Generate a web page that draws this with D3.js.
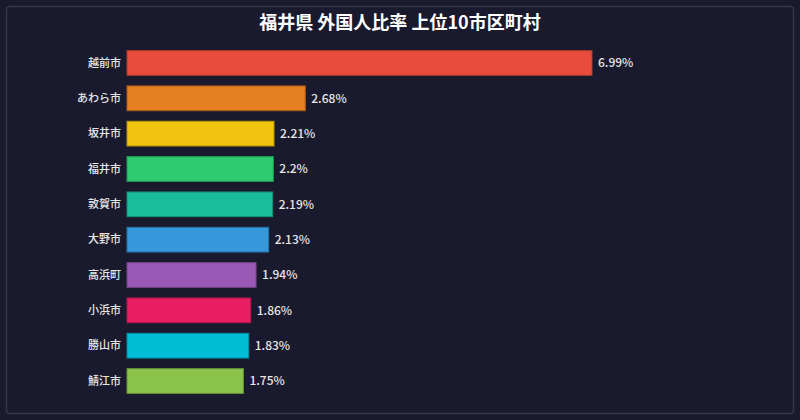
<!DOCTYPE html>
<html>
<head>
<meta charset="utf-8">
<script src="https://cdn.jsdelivr.net/npm/d3@7"></script>
<style>
  html, body { margin: 0; padding: 0; background: #1a1a2e; }
  svg { display: block; font-family: "Noto Sans CJK JP", "Noto Sans", sans-serif; }
</style>
</head>
<body>
<div id="chart"></div>
<script>
const cities = ['越前市', 'あわら市', '坂井市', '福井市', '敦賀市', '大野市', '高浜町', '小浜市', '勝山市', '鯖江市'];
const ratios = [6.99, 2.68, 2.21, 2.2, 2.19, 2.13, 1.94, 1.86, 1.83, 1.75];
const barColors = ['#e74c3c', '#e67e22', '#f1c40f', '#2ecc71', '#1abc9c', '#3498db', '#9b59b6', '#e91e63', '#00bcd4', '#8bc34a'];
const title = '福井県 外国人比率 上位10市区町村';

const W = 800, H = 420;
const margin = { top: 40, right: 208, bottom: 16, left: 127 };
const width = W - margin.left - margin.right;
const height = H - margin.top - margin.bottom;

const data = cities.map((c, i) => ({ city: c, value: ratios[i], color: barColors[i] }));

const svg = d3.select('#chart').append('svg')
    .attr('width', W)
    .attr('height', H);

svg.append('rect')
    .attr('width', W).attr('height', H)
    .attr('fill', '#1a1a2e');

// frame
svg.append('rect')
    .attr('x', 6.5).attr('y', 6.5)
    .attr('width', W - 13).attr('height', H - 13)
    .attr('rx', 3)
    .attr('fill', '#1a1a2e')
    .attr('stroke', '#34344c')
    .attr('stroke-width', 1.5);

svg.append('text')
    .attr('x', W / 2)
    .attr('y', 29)
    .attr('text-anchor', 'middle')
    .attr('fill', '#ffffff')
    .style('font-size', '18px')
    .style('font-weight', 'bold')
    .text(title);

const g = svg.append('g')
    .attr('transform', `translate(${margin.left},${margin.top})`);

const xScale = d3.scaleLinear()
    .domain([0, d3.max(ratios)])
    .range([0, width]);

const yScale = d3.scaleBand()
    .domain(cities)
    .range([0, height])
    .padding(0.3);

// category axis
const yAxis = g.append('g')
    .call(d3.axisLeft(yScale).tickSize(0).tickPadding(6));
yAxis.select('.domain').remove();
yAxis.selectAll('text')
    .attr('fill', '#e6e6e6')
    .style('font-size', '11px')
    .style('font-weight', '500')
    .style('font-family', '"Noto Sans CJK JP", sans-serif');

g.selectAll('.bar')
    .data(data)
    .enter()
    .append('rect')
    .attr('class', 'bar')
    .attr('x', 0)
    .attr('y', d => yScale(d.city))
    .attr('width', d => xScale(d.value))
    .attr('height', yScale.bandwidth())
    .attr('fill', d => d.color)
    .attr('stroke', d => d3.color(d.color).darker(0.8))
    .attr('stroke-width', 1);

g.selectAll('.label')
    .data(data)
    .enter()
    .append('text')
    .attr('class', 'label')
    .attr('x', d => xScale(d.value) + 6)
    .attr('y', d => yScale(d.city) + yScale.bandwidth() / 2)
    .attr('dy', '0.35em')
    .attr('fill', '#e6e6e6')
    .style('font-size', '12px')
    .style('font-weight', '500')
    .text(d => d.value + '%');
</script>
</body>
</html>
